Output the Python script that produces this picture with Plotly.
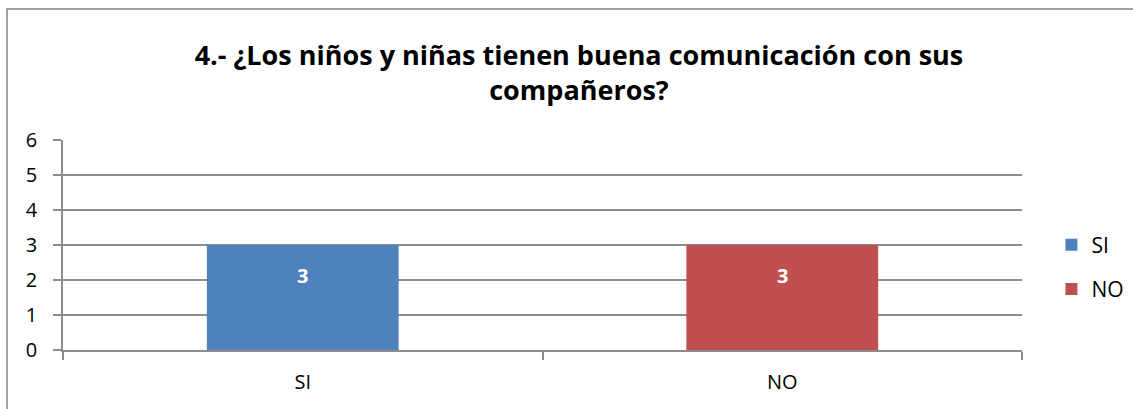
import plotly.graph_objects as go

categories = ["SI", "NO"]
values = [3, 3]
colors = ["#4F81BD", "#C0504D"]
y_ticks = [0, 1, 2, 3, 4, 5, 6]
title_text = "<b>4.- ¿Los niños y niñas tienen buena comunicación con sus<br>compañeros?</b>"

FONT = "Open Sans"
GRID = "#8C8C8C"

fig = go.Figure()
for i, (cat, val) in enumerate(zip(categories, values)):
    fig.add_trace(go.Bar(
        x=[cat], y=[val], name=cat, marker=dict(color=colors[i], line=dict(width=0)),
        width=0.4, legendgroup=cat, showlegend=True,
    ))
    fig.add_annotation(
        x=cat, y=val, text=f"<b>{val}</b>", showarrow=False, yanchor="top", yshift=-15,
        font=dict(family=FONT, size=20, color="white"),
    )

fig.update_layout(
    width=1133, height=409,
    margin=dict(l=63, r=111, t=140, b=59),
    paper_bgcolor="white", plot_bgcolor="white",
    barmode="overlay",
    font=dict(family=FONT, size=20, color="black"),
    title=dict(text=title_text, x=0.511, xanchor="center", xref="container",
               y=0.841, yanchor="top", yref="container",
               font=dict(family=FONT, size=27, color="black")),
    showlegend=True,
    legend=dict(x=0.928, xanchor="left", xref="container", y=0.395, yanchor="middle",
                font=dict(family=FONT, size=21), traceorder="grouped",
                tracegroupgap=14, bgcolor="rgba(0,0,0,0)", itemwidth=30),
    xaxis=dict(type="category", categoryorder="array", categoryarray=categories,
               showgrid=False, showline=True, linecolor=GRID, linewidth=1.5,
               ticks="outside", tickson="boundaries", ticklen=8, tickcolor=GRID,
               tickwidth=1.5, ticklabelstandoff=13, range=[-0.5, 1.5], fixedrange=True),
    yaxis=dict(range=[0, 6], tickvals=y_ticks, showgrid=True, gridcolor=GRID, gridwidth=1.5,
               showline=True, linecolor=GRID, linewidth=1.5, ticks="outside", ticklen=8,
               tickcolor=GRID, tickwidth=1.5, ticklabelstandoff=12, zeroline=False),
)

fig.add_shape(type="rect", xref="paper", yref="paper",
              x0=-0.0584, x1=1.6, y0=-0.6, y1=1.6238,
              line=dict(color="#868686", width=1.5), fillcolor="rgba(0,0,0,0)", layer="below")

fig.write_html("out.html")
